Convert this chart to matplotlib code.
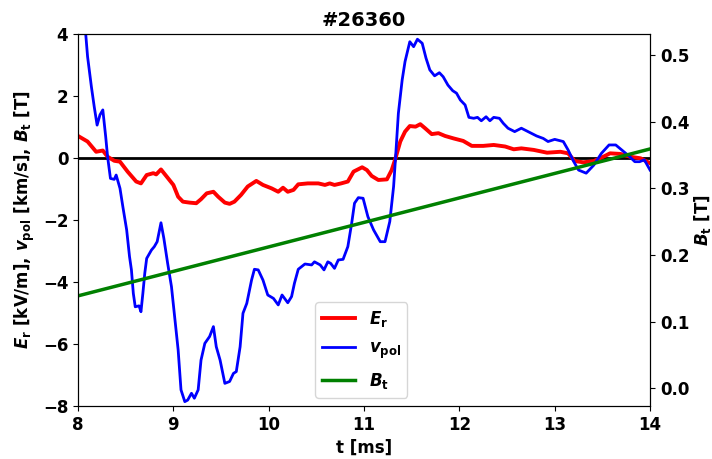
import numpy as np
import matplotlib
matplotlib.use('Agg')
import matplotlib.pyplot as plt

plt.rcParams['font.weight'] = 'bold'
plt.rcParams['axes.labelweight'] = 'bold'
plt.rcParams['axes.titleweight'] = 'bold'
plt.rcParams['mathtext.fontset'] = 'custom'
plt.rcParams['mathtext.it'] = 'DejaVu Sans:italic:bold'
plt.rcParams['mathtext.rm'] = 'DejaVu Sans:bold'
plt.rcParams['mathtext.bf'] = 'DejaVu Sans:bold'

shot = '#26360'

t_er = [8.0, 8.1, 8.19, 8.26, 8.31, 8.38, 8.44, 8.52, 8.61, 8.66, 8.72, 8.79, 8.82, 8.87,
        8.93, 9.0, 9.05, 9.1, 9.17, 9.24, 9.29, 9.35, 9.42, 9.47, 9.54, 9.59, 9.64, 9.71,
        9.78, 9.87, 9.94, 10.03, 10.1, 10.15, 10.2, 10.26, 10.31, 10.41, 10.52, 10.59,
        10.64, 10.69, 10.76, 10.83, 10.89, 10.98, 11.03, 11.08, 11.15, 11.24, 11.29, 11.33,
        11.38, 11.43, 11.48, 11.54, 11.59, 11.64, 11.71, 11.78, 11.85, 11.94, 12.04, 12.13,
        12.25, 12.36, 12.48, 12.57, 12.65, 12.78, 12.92, 13.06, 13.14, 13.21, 13.3, 13.41,
        13.51, 13.58, 13.69, 13.79, 13.9, 14.0]
er = [0.71, 0.53, 0.2, 0.24, 0.04, -0.09, -0.12, -0.44, -0.76, -0.82, -0.55, -0.49, -0.53, -0.37,
      -0.6, -0.87, -1.25, -1.41, -1.44, -1.46, -1.33, -1.14, -1.09, -1.25, -1.44, -1.48, -1.41, -1.19,
      -0.92, -0.74, -0.87, -0.98, -1.09, -0.96, -1.09, -1.03, -0.85, -0.82, -0.82, -0.87,
      -0.82, -0.87, -0.82, -0.76, -0.44, -0.3, -0.39, -0.58, -0.71, -0.69, -0.39, -0.01,
      0.53, 0.85, 1.03, 1.01, 1.09, 0.96, 0.77, 0.8, 0.71, 0.63, 0.55, 0.39,
      0.39, 0.42, 0.37, 0.28, 0.31, 0.26, 0.17, 0.2, 0.15, -0.1, -0.14, -0.1,
      0.04, 0.15, 0.13, 0.04, -0.01, -0.17]

t_vpol = [8.0, 8.08, 8.1, 8.14, 8.17, 8.2, 8.23, 8.26, 8.29, 8.31, 8.34, 8.38, 8.4, 8.44, 8.47,
          8.51, 8.54, 8.56, 8.58, 8.6, 8.64, 8.66, 8.68, 8.7, 8.72, 8.77, 8.8, 8.83, 8.87,
          8.9, 8.94, 8.98, 9.01, 9.05, 9.08, 9.12, 9.15, 9.19, 9.22, 9.26, 9.29, 9.33,
          9.38, 9.42, 9.45, 9.49, 9.54, 9.59, 9.63, 9.66, 9.7, 9.73, 9.77, 9.82, 9.85,
          9.89, 9.94, 9.99, 10.05, 10.1, 10.14, 10.2, 10.24, 10.27, 10.31, 10.38, 10.45,
          10.48, 10.54, 10.58, 10.62, 10.65, 10.69, 10.73, 10.78, 10.83, 10.87, 10.9,
          10.94, 10.99, 11.04, 11.1, 11.17, 11.22, 11.27, 11.31, 11.33, 11.36, 11.4,
          11.43, 11.48, 11.52, 11.56, 11.61, 11.65, 11.69, 11.74, 11.79, 11.83, 11.88,
          11.93, 11.97, 12.01, 12.06, 12.1, 12.15, 12.19, 12.23, 12.28, 12.32, 12.36,
          12.42, 12.46, 12.51, 12.58, 12.65, 12.72, 12.81, 12.88, 12.93, 13.0, 13.09,
          13.14, 13.2, 13.25, 13.33, 13.41, 13.49, 13.57, 13.64, 13.71, 13.78, 13.84,
          13.89, 13.94, 14.0]
vpol = [5.6, 4.02, 3.27, 2.3, 1.65, 1.06, 1.39, 1.55, 0.69, 0.04, -0.66, -0.69, -0.55, -0.98, -1.57,
        -2.32, -3.18, -3.61, -4.37, -4.8, -4.77, -4.96, -4.37, -3.72, -3.24, -2.97, -2.86, -2.7, -2.09,
        -2.59, -3.4, -4.15, -5.01, -6.19, -7.48, -7.86, -7.81, -7.59, -7.75, -7.48, -6.52, -5.98,
        -5.76, -5.44, -6.09, -6.52, -7.27, -7.21, -6.95, -6.89, -6.09, -5.01, -4.69, -3.94, -3.59,
        -3.61, -3.94, -4.42, -4.53, -4.74, -4.42, -4.67, -4.47, -4.04, -3.59, -3.42, -3.45,
        -3.35, -3.45, -3.61, -3.35, -3.4, -3.56, -3.29, -3.27, -2.86, -2.11, -1.46,
        -1.28, -1.3, -1.89, -2.32, -2.7, -2.7, -2.05, -0.92, -0.01, 1.44, 2.52,
        3.11, 3.75, 3.59, 3.83, 3.7, 3.22, 2.84, 2.65, 2.75, 2.62, 2.35,
        2.17, 2.09, 1.87, 1.71, 1.31, 1.28, 1.31, 1.2, 1.33, 1.2, 1.31,
        1.28, 1.12, 0.96, 0.85, 0.96, 0.85, 0.71, 0.63, 0.53, 0.6, 0.53,
        0.26, -0.12, -0.39, -0.49, -0.23, 0.15, 0.42, 0.42, 0.24, 0.06, -0.12,
        -0.12, -0.06, -0.39]

t_bt = [8.0, 14.0]
bt = [0.1386, 0.359]

fig = plt.figure(figsize=(7.12, 4.59), dpi=100)
ax = fig.add_axes([0.1096, 0.1155, 0.8034, 0.8105])
ax2 = ax.twinx()

ax.axhline(0, color='black', lw=2)
l1, = ax.plot(t_er, er, color='red', lw=2.8, label=r'$E_\mathrm{r}$')
l2, = ax.plot(t_vpol, vpol, color='blue', lw=2, label=r'$v_\mathrm{pol}$')
l3, = ax2.plot(t_bt, bt, color='green', lw=2.5, label=r'$B_\mathrm{t}$')

ax.set_xlim(8, 14)
ax.set_ylim(-8, 4)
ax2.set_ylim(-0.0266, 0.5315)
ax.set_xticks([8, 9, 10, 11, 12, 13, 14])
ax.set_yticks([-8, -6, -4, -2, 0, 2, 4])
ax2.set_yticks([0.0, 0.1, 0.2, 0.3, 0.4, 0.5])
ax.tick_params(labelsize=12)
ax2.tick_params(labelsize=12)

ax.set_xlabel('t [ms]', fontsize=12)
ax.set_ylabel(r'$E_\mathrm{r}$ [kV/m], $v_\mathrm{pol}$ [km/s], $B_\mathrm{t}$ [T]', fontsize=12)
ax2.set_ylabel(r'$B_\mathrm{t}$ [T]', fontsize=12, rotation=90, labelpad=2)
ax.set_title(shot, fontsize=14)

ax2.legend(handles=[l1, l2, l3], loc='lower left', bbox_to_anchor=(0.4, 0.0),
           fontsize=12, labelspacing=0.6)

fig.savefig('out.png', dpi=100)
